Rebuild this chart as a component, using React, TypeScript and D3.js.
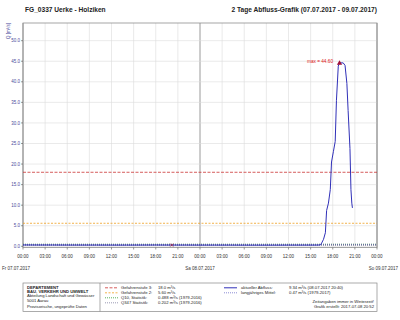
import React from "react";
import * as d3 from "d3";

// ---------- data ----------
const flowTimes = [
  "2017-07-07 00:00", "2017-07-07 02:00", "2017-07-07 04:00", "2017-07-07 06:00",
  "2017-07-07 08:00", "2017-07-07 10:00", "2017-07-07 12:00", "2017-07-07 14:00",
  "2017-07-07 16:00", "2017-07-07 18:00", "2017-07-07 20:00", "2017-07-07 22:00",
  "2017-07-08 00:00", "2017-07-08 02:00", "2017-07-08 04:00", "2017-07-08 06:00",
  "2017-07-08 08:00", "2017-07-08 10:00", "2017-07-08 12:00", "2017-07-08 14:00",
  "2017-07-08 16:00", "2017-07-08 16:20", "2017-07-08 16:30", "2017-07-08 16:45",
  "2017-07-08 17:00", "2017-07-08 17:10", "2017-07-08 17:25", "2017-07-08 17:40",
  "2017-07-08 17:50", "2017-07-08 18:05", "2017-07-08 18:20", "2017-07-08 18:30",
  "2017-07-08 18:45", "2017-07-08 18:55", "2017-07-08 19:25", "2017-07-08 19:40",
  "2017-07-08 19:55", "2017-07-08 20:05", "2017-07-08 20:20", "2017-07-08 20:28",
  "2017-07-08 20:35", "2017-07-08 20:40",
];
const flowValues = [
  0.32, 0.31, 0.31, 0.30, 0.30, 0.30, 0.29, 0.29,
  0.30, 0.31, 0.30, 0.30, 0.29, 0.29, 0.29, 0.28,
  0.28, 0.28, 0.29, 0.29, 0.30, 0.35, 0.8, 1.7,
  3.3, 8.7, 10.5, 13.8, 20.5, 23.0, 25.5, 35.5,
  43.8, 44.6, 44.6, 44.0, 39.6, 33.0, 23.8, 13.8,
  10.5, 9.34,
];
const maxTime = "2017-07-08 18:55";
const maxValue = 44.6;
const eventTimes = ["2017-07-07 20:10"];
const eventValues = [0.3];

const refNames = ["Gefahrenstufe 3:", "Gefahrenstufe 2:", "Q10, Statistik:", "Q347 Statistik:"];
const refValues = [18.0, 5.6, 0.488, 0.202];
const refTexts = ["18.0 m³/s", "5.60 m³/s", "0.488 m³/s (1979-2016)", "0.202 m³/s (1979-2016)"];
const refColors = ["#cc3333", "#f0a020", "#33a033", "#8080a0"];
const refDashes = ["3,1.5", "2,1.5", "1,1", "1,1"];

const meanValue = 0.47;
const seriesNames = ["aktueller Abfluss:", "langjähriges Mittel:"];
const seriesTexts = ["9.34 m³/s (08.07.2017 20:40)", "0.47 m³/s (1979-2017)"];

const yTickValues = [0, 5, 10, 15, 20, 25, 30, 35, 40, 45, 50];
const dayLabels = ["Fr 07.07.2017", "Sa 08.07.2017", "So 09.07.2017"];
const deptLines = [
  "DEPARTEMENT",
  "BAU, VERKEHR UND UMWELT",
  "Abteilung Landschaft und Gewässer",
  "5001 Aarau",
];
const provisional = "Provisorische, ungeprüfte Daten";
const noteLines = ["Zeitangaben immer in Winterzeit!", "Grafik erstellt: 2017-07-08 20:52"];
const titleLeft = "FG_0337 Uerke - Holziken";
const titleRight = "2 Tage Abfluss-Grafik (07.07.2017 - 09.07.2017)";

// ---------- layout ----------
const W = 400, H = 320;
const L = 23, R = 377, T = 23, B = 247.5;
const FONT = "'Liberation Sans', Arial, sans-serif";
const parse = d3.timeParse("%Y-%m-%d %H:%M");

export default function App() {
  const x = d3.scaleTime()
    .domain([new Date(2017, 6, 7, 0, 0), new Date(2017, 6, 9, 0, 0)])
    .range([L, R]);
  const y = d3.scaleLinear().domain([0, 54.3]).range([246.3, T]);

  const pts = flowTimes.map((t, i) => ({ t: parse(t) as Date, v: flowValues[i] }));
  const line = d3.line<{ t: Date; v: number }>().x(d => x(d.t)).y(d => y(d.v));
  const xTicks = x.ticks(d3.timeHour.every(3) as any);
  const fmt = d3.timeFormat("%H:%M");
  const days = x.ticks(d3.timeDay.every(1) as any);

  const mx = x(parse(maxTime) as Date), my = y(maxValue);

  return (
    <svg width={W} height={H} style={{ position: "absolute", left: 0, top: 0, background: "#fff" }}
      fontFamily={FONT}>
      <rect width={W} height={H} fill="#fff" />
      {/* titles */}
      <text x={25} y={12} fontSize={6.6} fontWeight="bold" fill="#222">{titleLeft}</text>
      <text x={377} y={12} fontSize={6.6} fontWeight="bold" fill="#222" textAnchor="end">{titleRight}</text>

      {/* grid */}
      {xTicks.map((d, i) => (
        <line key={"gx" + i} x1={x(d)} x2={x(d)} y1={T} y2={B}
          stroke={d.getHours() === 0 ? "#808080" : "#dcdcdc"} strokeWidth={d.getHours() === 0 ? 0.8 : 0.6} />
      ))}
      {yTickValues.map((v, i) => (
        <line key={"gy" + i} x1={L} x2={R} y1={y(v)} y2={y(v)} stroke="#dcdcdc" strokeWidth={0.6} />
      ))}
      <rect x={L} y={T} width={R - L} height={B - T} fill="none" stroke="#909090" strokeWidth={0.8} />

      {/* y axis */}
      {yTickValues.map((v, i) => (
        <g key={"yt" + i}>
          <line x1={L - 2} x2={L} y1={y(v)} y2={y(v)} stroke="#555" strokeWidth={0.6} />
          <text x={20} y={y(v) + 1.6} fontSize={4.5} fill="#4a4a9a" textAnchor="end">{v.toFixed(1)}</text>
        </g>
      ))}
      <text transform={`translate(9.5,31) rotate(-90)`} fontSize={4.5} fill="#4a4a9a" textAnchor="middle">Q [m³/s]</text>

      {/* x axis */}
      {xTicks.map((d, i) => (
        <g key={"xt" + i}>
          <line x1={x(d)} x2={x(d)} y1={B} y2={B + 2} stroke="#555" strokeWidth={0.6} />
          <text x={x(d)} y={257.5} fontSize={4.5} fill="#333" textAnchor="middle">{fmt(d)}</text>
        </g>
      ))}
      {days.map((d, i) => (
        <text key={"dl" + i} x={i === 0 ? 2 : i === days.length - 1 ? 398 : x(d)} y={270}
          fontSize={4.5} fill="#333" textAnchor={i === 0 ? "start" : i === days.length - 1 ? "end" : "middle"}>
          {dayLabels[i]}
        </text>
      ))}

      {/* reference lines */}
      {refValues.map((v, i) => (
        <line key={"ref" + i} x1={L} x2={R} y1={y(v)} y2={y(v)} stroke={refColors[i]}
          strokeWidth={0.8} strokeDasharray={refDashes[i]} />
      ))}
      <line x1={L} x2={R} y1={y(meanValue)} y2={y(meanValue)} stroke="#6060a0" strokeWidth={0.9} strokeDasharray="1,1" />

      {/* flow */}
      <path d={line(pts) || ""} fill="none" stroke="#3030b8" strokeWidth={1} />

      {eventTimes.map((t, i) => {
        const ex = x(parse(t) as Date), ey = y(eventValues[i]);
        return <path key={"ev" + i} d={`M${ex - 1.5},${ey - 1.5}L${ex + 1.5},${ey + 1.5}M${ex - 1.5},${ey + 1.5}L${ex + 1.5},${ey - 1.5}`}
          stroke="#a02040" strokeWidth={0.8} />;
      })}

      {/* max */}
      <path d={`M${mx},${my - 2.6}L${mx + 2.6},${my + 1.8}L${mx - 2.6},${my + 1.8}Z`} fill="#a0103a" />
      <text x={333} y={my + 0.3} fontSize={4.7} fill="#dd2020" textAnchor="end">max = 44.60</text>

      {/* legend box */}
      <rect x={L} y={283} width={R - L} height={28.5} fill="#fff" stroke="#888" strokeWidth={0.7} />
      <line x1={100} x2={100} y1={283} y2={311.5} stroke="#888" strokeWidth={0.7} />
      {deptLines.map((s, i) => (
        <text key={"dp" + i} x={27} y={289 + i * 4.2} fontSize={4.2} fill="#222"
          fontWeight={i < 2 ? "bold" : "normal"}>{s}</text>
      ))}
      <text x={27} y={307.5} fontSize={4.2} fill="#222">{provisional}</text>

      {refNames.map((s, i) => (
        <g key={"lg" + i}>
          <line x1={105} x2={118} y1={287.8 + i * 5} y2={287.8 + i * 5} stroke={refColors[i]}
            strokeWidth={0.8} strokeDasharray={refDashes[i]} />
          <text x={121} y={289.3 + i * 5} fontSize={4.2} fill="#222">{s}</text>
          <text x={158} y={289.3 + i * 5} fontSize={4.2} fill="#222">{refTexts[i]}</text>
        </g>
      ))}
      {seriesNames.map((s, i) => (
        <g key={"sg" + i}>
          <line x1={224} x2={237} y1={287.8 + i * 5} y2={287.8 + i * 5}
            stroke={i === 0 ? "#3030b8" : "#8080d0"} strokeWidth={i === 0 ? 1 : 0.9}
            strokeDasharray={i === 0 ? undefined : "1,1"} />
          <text x={241} y={289.3 + i * 5} fontSize={4.2} fill="#222">{s}</text>
          <text x={289} y={289.3 + i * 5} fontSize={4.2} fill="#222">{seriesTexts[i]}</text>
        </g>
      ))}
      {noteLines.map((s, i) => (
        <text key={"nl" + i} x={374} y={303 + i * 4.8} fontSize={4.2} fill="#222" textAnchor="end">{s}</text>
      ))}
    </svg>
  );
}
